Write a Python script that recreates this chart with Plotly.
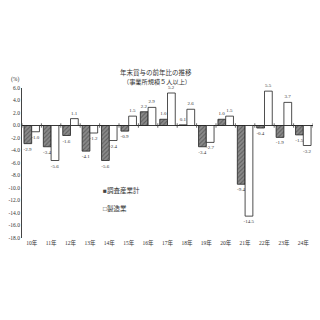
import plotly.graph_objects as go

categories = ["10年", "11年", "12年", "13年", "14年", "15年", "16年", "17年",
              "18年", "19年", "20年", "21年", "22年", "23年", "24年"]
all_industries = [-2.9, -3.4, -1.6, -4.1, -5.6, -0.9, 2.2, 1.0,
                  0.1, -3.4, 1.0, -9.4, -0.4, -1.9, -1.5]
manufacturing = [-1.0, -5.6, 1.1, -1.2, -2.4, 1.5, 2.9, 5.2,
                 2.6, -2.7, 1.5, -14.5, 5.5, 3.7, -3.2]
y_ticks = [6, 4, 2, 0, -2, -4, -6, -8, -10, -12, -14, -16, -18]

FONT = "Liberation Serif, Noto Sans CJK JP, serif"
W, H = 320, 320
ml, mr, mt, mb = 21.6, 7.4, 88, 82
PW, PH = W - ml - mr, H - mt - mb


def px(x):
    return (x - ml) / PW


def py(y):
    return (H - mb - y) / PH


fig = go.Figure()
fig.add_trace(go.Bar(
    x=categories, y=all_industries, name="調査産業計",
    marker=dict(color="#8a8a8a", line=dict(color="#222", width=0.8),
                pattern=dict(shape="/", fgcolor="#333", bgcolor="#8a8a8a", size=3, solidity=0.35)),
    text=[f"{v:.1f}" for v in all_industries], textposition="outside",
    textfont=dict(family=FONT, size=5, color="#333"), constraintext="none",
    cliponaxis=False, showlegend=False,
))
fig.add_trace(go.Bar(
    x=categories, y=manufacturing, name="製造業",
    marker=dict(color="white", line=dict(color="#222", width=0.8)),
    text=[f"{v:.1f}" for v in manufacturing], textposition="outside",
    textfont=dict(family=FONT, size=5, color="#333"), constraintext="none",
    cliponaxis=False, showlegend=False,
))

# category boundary ticks on the zero line
shapes = []
for i in range(len(categories) + 1):
    shapes.append(dict(type="line", xref="x", yref="y", x0=i - 0.5, x1=i - 0.5,
                       y0=-0.35, y1=0.35, line=dict(color="#444", width=0.8)))

fig.update_layout(
    width=W, height=H, margin=dict(l=ml, r=mr, t=mt, b=mb),
    paper_bgcolor="white", plot_bgcolor="white",
    barmode="group", bargap=0.2, bargroupgap=0,
    font=dict(family=FONT, size=5.5, color="#333"),
    xaxis=dict(showline=False, showgrid=False, ticks="", zeroline=False,
               tickfont=dict(size=5.5), range=[-0.5, len(categories) - 0.5]),
    yaxis=dict(range=[-18, 6], tickvals=y_ticks, ticktext=[f"{v:.1f}" for v in y_ticks],
               showline=True, linecolor="#444", linewidth=1, showgrid=False,
               zeroline=True, zerolinecolor="#222", zerolinewidth=1, ticks="",
               tickfont=dict(size=5.5)),
    shapes=shapes,
    annotations=[
        dict(text="年末賞与の前年比の推移", xref="paper", yref="paper",
             x=px(156), y=py(73), showarrow=False, font=dict(size=6.5, color="#333"),
             xanchor="center", yanchor="middle"),
        dict(text="（事業所規模５人以上）", xref="paper", yref="paper",
             x=px(157), y=py(82), showarrow=False, font=dict(size=6.2, color="#333"),
             xanchor="center", yanchor="middle"),
        dict(text="(%)", xref="paper", yref="paper",
             x=px(15), y=py(79), showarrow=False, font=dict(size=5.5, color="#333"),
             xanchor="center", yanchor="middle"),
        dict(text="<span style='color:#444'>■</span>調査産業計", xref="paper", yref="paper",
             x=px(101), y=py(190), showarrow=False, font=dict(size=6.5, color="#333"),
             xanchor="left", yanchor="middle"),
        dict(text="□製造業", xref="paper", yref="paper",
             x=px(101), y=py(208), showarrow=False, font=dict(size=6.5, color="#333"),
             xanchor="left", yanchor="middle"),
    ],
)

fig.write_html("out.html")
